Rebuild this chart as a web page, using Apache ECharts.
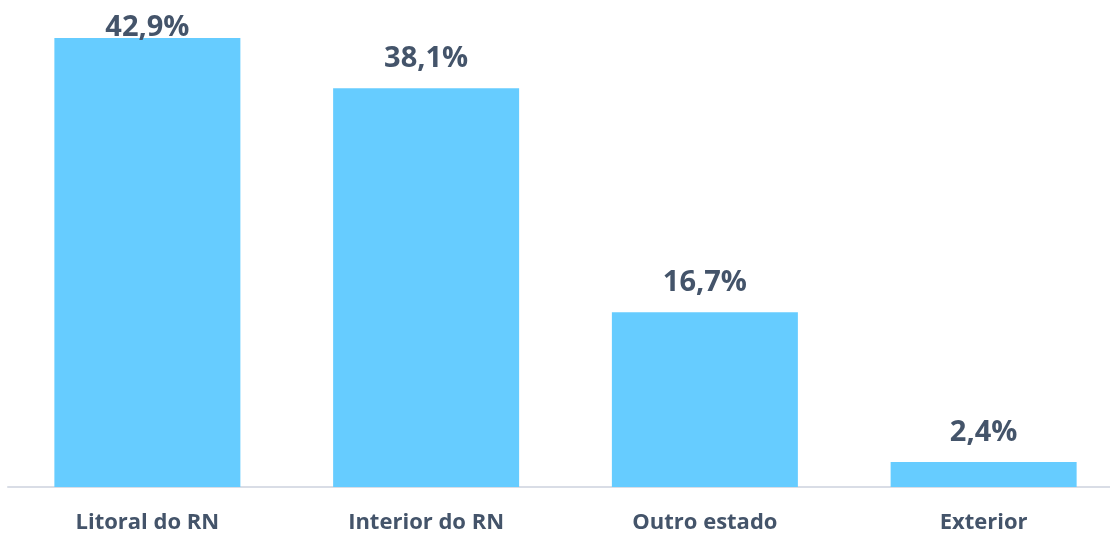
<!DOCTYPE html>
<html>
<head>
<meta charset="utf-8">
<script src="https://cdn.jsdelivr.net/npm/echarts@6/dist/echarts.min.js"></script>
<style>html,body{margin:0;padding:0;background:#fff;overflow:hidden;}#c{width:1110px;height:533px;}</style>
</head>
<body>
<div id="c"></div>
<script>
var categories = ['Litoral do RN', 'Interior do RN', 'Outro estado', 'Exterior'];
var values = [42.9, 38.1, 16.7, 2.4];

var chart = echarts.init(document.getElementById('c'), null, {renderer: 'canvas'});
var data = values.map(function (v, i) {
  var item = {value: v};
  if (i === 0) item.label = {offset: [0, 19]};
  return item;
});
chart.setOption({
  animation: false,
  grid: {left: 8, top: 38, bottom: 46, width: 1115, containLabel: false, outerBoundsMode: 'none'},
  xAxis: {
    type: 'category',
    data: categories,
    axisLine: {lineStyle: {color: '#D9DDE6', width: 2}},
    axisTick: {show: false},
    axisLabel: {color: '#44546A', fontFamily: 'Open Sans', fontWeight: 'bold', fontSize: 22, margin: 25}
  },
  yAxis: {type: 'value', min: 0, max: 42.9, show: false, splitLine: {show: false}},
  series: [{
    type: 'bar',
    data: data,
    barWidth: 186,
    itemStyle: {color: '#66CCFF'},
    label: {
      show: true,
      position: 'top',
      distance: 15,
      color: '#44546A',
      fontFamily: 'Open Sans',
      fontWeight: 'bold',
      fontSize: 29,
      formatter: function (p) { return p.value.toFixed(1).replace('.', ',') + '%'; }
    }
  }]
});
</script>
</body>
</html>
